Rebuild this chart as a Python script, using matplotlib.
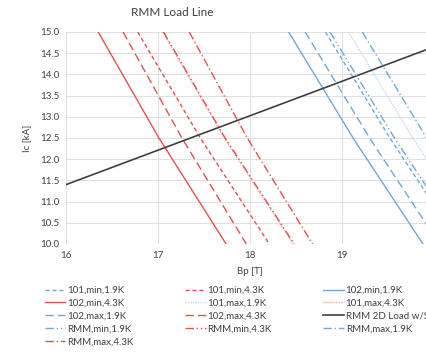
import matplotlib
matplotlib.use("Agg")
import matplotlib.pyplot as plt

plt.rcParams["font.family"] = ["Lato", "DejaVu Sans"]

# Ic [kA] sample points, Bp [T] for each curve at those currents
ic = [15.0, 12.5, 10.0]

bp_101_min_19 = [18.82, 19.52, 20.28]
bp_101_min_43 = [16.78, 17.46, 18.21]
bp_102_min_19 = [18.42, 19.12, 19.88]
bp_102_min_43 = [16.35, 17.01, 17.74]
bp_101_max_19 = [19.07, 19.77, 20.53]
bp_101_max_43 = [17.05, 17.72, 18.47]
bp_102_max_19 = [18.60, 19.30, 20.06]
bp_102_max_43 = [16.62, 17.26, 17.96]
bp_rmm_min_19 = [18.87, 19.57, 20.33]
bp_rmm_min_43 = [17.06, 17.73, 18.48]
bp_rmm_max_19 = [19.22, 19.92, 20.68]
bp_rmm_max_43 = [17.34, 17.97, 18.68]

# load line
load_bp = [16.0, 20.0]
load_ic = [11.4, 14.65]

RED = "#E05252"
RED_L = "#F2AAAA"
BLUE = "#6FA8DC"
BLUE_L = "#BFD8EE"

series = [
    ("101,min,1.9K", bp_101_min_19, BLUE, (0, (3, 2))),
    ("101,min,4.3K", bp_101_min_43, RED, (0, (3, 2))),
    ("102,min,1.9K", bp_102_min_19, BLUE, "-"),
    ("102,min,4.3K", bp_102_min_43, RED, "-"),
    ("101,max,1.9K", bp_101_max_19, BLUE_L, (0, (1, 0.8))),
    ("101,max,4.3K", bp_101_max_43, RED_L, (0, (1, 0.8))),
    ("102,max,1.9K", bp_102_max_19, BLUE, (0, (6, 3))),
    ("102,max,4.3K", bp_102_max_43, RED, (0, (6, 3))),
    ("RMM 2D Load w/SS", None, "#404040", "-"),
    ("RMM,min,1.9K", bp_rmm_min_19, BLUE, (0, (6, 2, 1, 2, 1, 2))),
    ("RMM,min,4.3K", bp_rmm_min_43, RED, (0, (6, 2, 1, 2, 1, 2))),
    ("RMM,max,1.9K", bp_rmm_max_19, BLUE, (0, (6, 2, 1, 2))),
    ("RMM,max,4.3K", bp_rmm_max_43, RED, (0, (6, 2, 1, 2))),
]

fig = plt.figure(figsize=(4.26, 3.52), dpi=100)
# plot area runs past the right edge, as in the cropped original
ax = fig.add_axes([66 / 426, 1 - 244 / 352, 368 / 426, 212 / 352])

handles = []
for name, bp, col, ls in series:
    if bp is None:
        h, = ax.plot(load_bp, load_ic, color=col, lw=1.2, ls=ls, label=name)
    else:
        h, = ax.plot(bp, ic, color=col, lw=1.0, ls=ls, label=name)
    handles.append(h)

ax.set_xlim(16, 20)
ax.set_ylim(10, 15)
ax.set_xticks([16, 17, 18, 19])
ax.set_yticks([10 + 0.5 * i for i in range(11)])
ax.yaxis.set_major_formatter(matplotlib.ticker.FormatStrFormatter("%.1f"))
ax.grid(True, color="#e0e0e0", lw=0.8)
ax.set_axisbelow(True)
for s in ax.spines.values():
    s.set_visible(False)
ax.tick_params(length=0, labelsize=7, colors="#404040", pad=5)
ax.set_xlabel("Bp [T]", fontsize=7, color="#404040", labelpad=5)
ax.set_ylabel("Ic [kA]", fontsize=7, color="#404040", labelpad=6)

fig.text(172 / 426, 1 - 13 / 352, "RMM Load Line", ha="center", va="center",
         fontsize=8.5, color="#404040")

# legend is filled column by column: reorder so it reads row by row
order = [0, 3, 6, 9, 12, 1, 4, 7, 10, 2, 5, 8, 11]
leg = fig.legend([handles[i] for i in order], [series[i][0] for i in order],
                 ncol=3, loc="upper left", bbox_to_anchor=(45 / 426, 1 - 286 / 352),
                 frameon=False, fontsize=7, handlelength=2.1, handletextpad=0.2,
                 columnspacing=5.3, labelspacing=0.4, borderpad=0, borderaxespad=0)
for t in leg.get_texts():
    t.set_color("#404040")

fig.savefig("out.png", dpi=100)
